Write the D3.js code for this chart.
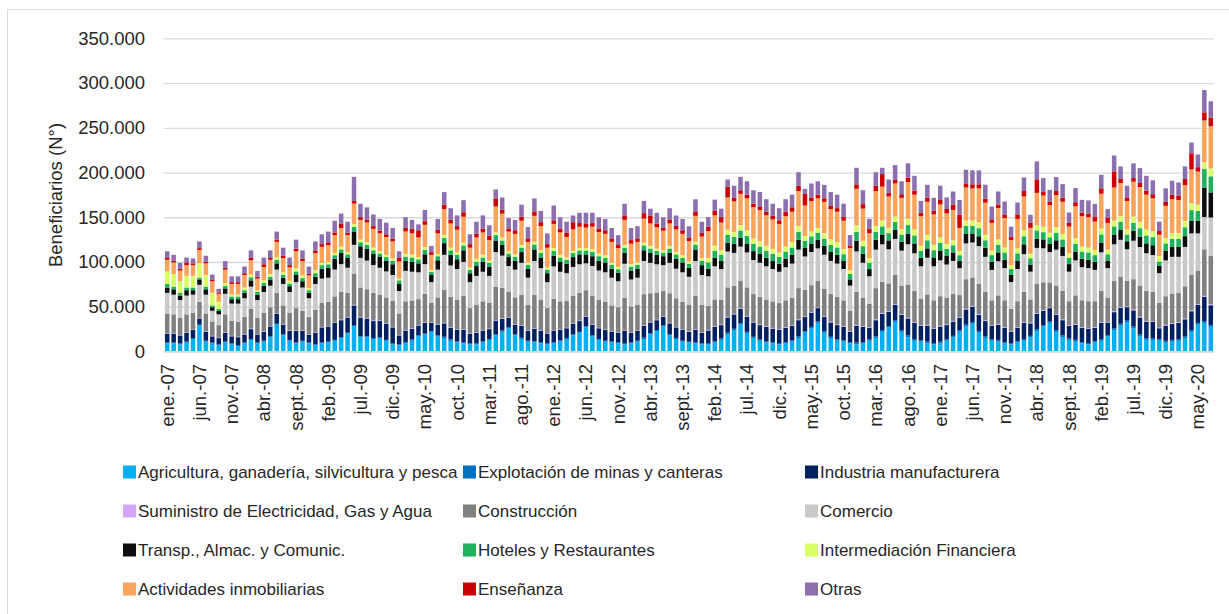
<!DOCTYPE html>
<html>
<head>
<meta charset="utf-8">
<script src="https://cdn.jsdelivr.net/npm/d3@7"></script>
<style>
  body { margin: 0; background: #fff; }
  text { font-family: 'Liberation Sans', Arial, sans-serif; fill: #262626; }
</style>
</head>
<body>
<svg id="chart" width="1229" height="614"></svg>
<script>
// Beneficiarios por rama de actividad, miles de personas (ene.-07 .. jul.-20)
const months = ['ene.', 'feb.', 'mar.', 'abr.', 'may.', 'jun.', 'jul.', 'ago.', 'sept.', 'oct.', 'nov.', 'dic.'];
const categories = d3.range(163).map(i => `${months[i % 12]}-${String(7 + Math.floor(i / 12)).padStart(2, '0')}`);

const tickLabels = ['ene.-07', 'jun.-07', 'nov.-07', 'abr.-08', 'sept.-08', 'feb.-09', 'jul.-09', 'dic.-09',
  'may.-10', 'oct.-10', 'mar.-11', 'ago.-11', 'ene.-12', 'jun.-12', 'nov.-12', 'abr.-13', 'sept.-13',
  'feb.-14', 'jul.-14', 'dic.-14', 'may.-15', 'oct.-15', 'mar.-16', 'ago.-16', 'ene.-17', 'jun.-17',
  'nov.-17', 'abr.-18', 'sept.-18', 'feb.-19', 'jul.-19', 'dic.-19', 'may.-20'];

const yTicks = [0, 50, 100, 150, 200, 250, 300, 350];

const agricultura = [
  9, 9, 8, 10, 14, 29, 11, 9, 7, 10, 8, 6,
  9, 13, 9, 11, 16, 30, 18, 12, 9, 11, 9, 7,
  9, 10, 12, 15, 20, 28, 16, 16, 14, 15, 12, 8,
  7, 9, 12, 17, 19, 22, 17, 15, 12, 10, 9, 8,
  8, 10, 13, 18, 22, 26, 18, 14, 11, 10, 9, 8,
  9, 11, 14, 18, 21, 27, 17, 13, 11, 10, 9, 8,
  9, 11, 14, 19, 23, 28, 18, 14, 11, 10, 9, 8,
  8, 10, 13, 19, 24, 30, 20, 15, 12, 10, 9, 8,
  9, 11, 15, 21, 26, 32, 21, 15, 12, 11, 9, 8,
  9, 12, 15, 22, 27, 33, 22, 16, 12, 11, 9, 8,
  9, 12, 16, 22, 28, 31, 21, 15, 12, 11, 9, 8,
  10, 12, 16, 23, 28, 32, 22, 16, 13, 11, 9, 8,
  10, 12, 17, 24, 29, 33, 26, 17, 13, 13, 13, 10,
  11, 12, 15, 22, 30, 32, 27.7];

const mineria = [
  1, 1, 1, 1, 1, 1, 1, 1, 1, 1, 1, 1,
  1, 1, 1, 1, 1, 1, 1, 1, 1, 1, 1, 1,
  1, 1, 1, 1, 1, 1.5, 1, 1, 1, 1, 1, 1,
  1, 1.5, 1.5, 1, 1, 1, 1, 1.5, 1.5, 1.5, 1.5, 1,
  1, 1.5, 1, 1.5, 1.5, 1, 1, 1.5, 1, 1.5, 1.5, 1,
  1.5, 1.5, 1, 1, 1, 1, 1, 1, 1, 1, 1, 1.5,
  1, 1, 1.5, 1.5, 1, 1, 1.5, 1, 1, 1, 1.5, 1,
  1.5, 1.5, 1.5, 2, 1.5, 1.5, 2, 1.5, 1.5, 1.5, 1.5, 1.5,
  1.5, 1.5, 2, 1.5, 1.5, 1.5, 1.5, 1.5, 1.5, 1.5, 1, 2,
  1.5, 1.5, 2, 2, 1.5, 2, 2, 2, 2, 1.5, 2, 1.5,
  2, 1.5, 1.5, 1.5, 2, 2, 2, 2, 1.5, 2, 1.5, 1,
  1.5, 2, 1.5, 2, 1.5, 1.5, 2, 2, 1.5, 2, 1.5, 1.5,
  1.5, 2, 1.5, 2, 2, 1.5, 2, 2, 2, 2, 1, 2,
  2, 2, 2, 2, 2, 2, 2];

const industria = [
  10, 10, 9, 10, 9, 7, 10, 7, 7, 10, 8, 9,
  9, 11, 9, 10, 11, 11, 11, 10, 13, 11, 9, 13,
  17, 17, 19, 19, 17, 22, 21, 20, 19, 18, 18, 18,
  10, 13, 12, 11, 12, 9, 12, 15, 13, 13, 14, 11,
  12, 12, 11, 15, 13, 11, 11, 13, 11, 14, 13, 11,
  13, 12, 11, 12, 12, 11, 12, 12, 12, 11, 11, 14,
  11, 11, 13, 12, 11, 10, 12, 12, 12, 11, 14, 12,
  14, 16, 15, 17, 16, 16, 17, 16, 16, 16, 15, 15,
  16, 16, 18, 16, 16, 15, 16, 16, 16, 15, 12, 19,
  17, 13, 18, 18, 16, 17, 17, 19, 18, 16, 18, 16,
  17, 16, 16, 14, 17, 17, 18, 17, 15, 17, 16, 13,
  15, 18, 14, 17, 16, 15, 17, 17, 14, 17, 16, 16,
  15, 18, 14, 18, 18, 15, 18, 19, 18, 18, 12, 17,
  18, 18, 19, 21, 20, 27, 22];

const electricidad = [
  0.5, 0.5, 0.5, 0.5, 0.5, 0.5, 0.5, 0.5, 0.5, 0.5, 0.5, 0.5,
  0.5, 0.5, 0.5, 0.5, 0.5, 0.5, 0.5, 0.5, 0.5, 0.5, 0.5, 0.5,
  0.5, 0.5, 0.6, 0.6, 0.6, 0.7, 0.6, 0.6, 0.6, 0.6, 0.5, 0.5,
  0.5, 0.6, 0.6, 0.5, 0.6, 0.5, 0.5, 0.6, 0.6, 0.6, 0.6, 0.5,
  0.5, 0.6, 0.5, 0.6, 0.6, 0.5, 0.5, 0.6, 0.5, 0.6, 0.6, 0.5,
  0.6, 0.6, 0.5, 0.5, 0.5, 0.5, 0.5, 0.5, 0.5, 0.5, 0.5, 0.6,
  0.5, 0.5, 0.6, 0.6, 0.5, 0.5, 0.6, 0.5, 0.5, 0.5, 0.6, 0.5,
  0.6, 0.7, 0.6, 0.7, 0.7, 0.7, 0.7, 0.7, 0.7, 0.7, 0.6, 0.6,
  0.7, 0.7, 0.8, 0.7, 0.7, 0.7, 0.7, 0.7, 0.7, 0.7, 0.6, 0.8,
  0.7, 0.6, 0.8, 0.8, 0.7, 0.8, 0.7, 0.8, 0.8, 0.7, 0.8, 0.7,
  0.8, 0.7, 0.7, 0.6, 0.8, 0.8, 0.8, 0.8, 0.7, 0.8, 0.7, 0.6,
  0.7, 0.8, 0.7, 0.8, 0.8, 0.7, 0.8, 0.8, 0.7, 0.8, 0.7, 0.7,
  0.7, 0.8, 0.7, 0.8, 0.8, 0.7, 0.8, 0.8, 0.8, 0.8, 0.6, 0.8,
  0.8, 0.8, 0.9, 1, 1, 1.2, 1.1];

const construccion = [
  22, 21, 19, 20, 19, 18, 20, 16, 14, 20, 17, 17,
  19, 22, 18, 21, 21, 23, 21, 20, 25, 22, 19, 25,
  27, 27, 29, 31, 27, 35, 33, 32, 31, 29, 29, 29,
  24, 32, 31, 29, 32, 22, 30, 37, 34, 33, 37, 28,
  31, 32, 29, 37, 34, 28, 30, 34, 29, 37, 34, 28,
  35, 31, 30, 31, 31, 29, 32, 31, 31, 29, 28, 36,
  29, 29, 35, 32, 30, 28, 33, 32, 31, 30, 37, 31,
  27, 30, 28, 33, 31, 31, 32, 31, 31, 30, 30, 29,
  30, 31, 35, 30, 30, 30, 31, 31, 31, 29, 23, 37,
  32, 26, 35, 35, 31, 33, 32, 37, 35, 30, 34, 31,
  33, 30, 30, 25, 33, 32, 34, 32, 28, 32, 30, 25,
  29, 34, 26, 33, 31, 28, 32, 32, 27, 32, 30, 30,
  29, 35, 27, 34, 34, 29, 34, 35, 34, 33, 28, 32,
  33, 33, 36, 40, 37, 52, 54];

const comercio = [
  23, 22, 20, 21, 20, 19, 21, 12, 12, 23, 19, 20,
  21, 25, 20, 23, 24, 26, 24, 23, 29, 26, 21, 29,
  27, 27, 30, 31, 28, 32, 33, 32, 31, 30, 29, 29,
  25, 34, 32, 30, 33, 23, 31, 39, 35, 34, 38, 29,
  32, 33, 30, 39, 36, 29, 31, 36, 30, 38, 35, 29,
  36, 33, 31, 32, 32, 30, 33, 33, 33, 31, 29, 38,
  30, 30, 37, 34, 32, 29, 34, 33, 33, 31, 39, 33,
  33, 37, 34, 40, 37, 38, 39, 38, 38, 37, 36, 35,
  37, 38, 43, 37, 37, 36, 38, 37, 37, 35, 28, 45,
  39, 31, 43, 42, 38, 40, 39, 45, 42, 36, 41, 38,
  40, 37, 37, 30, 40, 39, 42, 39, 34, 38, 36, 30,
  36, 42, 31, 40, 38, 34, 40, 39, 33, 39, 37, 37,
  35, 43, 33, 41, 41, 35, 43, 43, 42, 41, 33, 40,
  41, 40, 44, 46, 42, 36, 43];

const transporte = [
  6, 6, 5, 6, 5, 6, 6, 4, 4, 6, 5, 5,
  6, 7, 6, 7, 7, 7, 7, 6.5, 8, 7, 6, 8,
  11, 11, 12, 12.5, 11, 15, 13, 13, 12.5, 12, 12, 12,
  8, 11, 11, 10, 11, 8, 10.5, 13, 12, 11, 13, 10,
  11, 11, 10, 13, 12, 10, 10, 12, 10, 13, 12, 10,
  12, 11, 10.5, 11, 11, 10, 11, 11, 11, 10, 9.5, 12.5,
  10, 10, 12, 11, 10.5, 10, 11, 11, 11, 10, 13, 11,
  8.5, 9.5, 9, 10, 10, 10, 10, 10, 10, 9.5, 9, 9,
  9.5, 10, 11, 9.5, 9.5, 9.5, 10, 10, 10, 9, 7, 12,
  10, 8, 11, 11, 10, 10.5, 10, 12, 11, 9.5, 10.5, 10,
  10.5, 9.5, 9.5, 8, 10.5, 10, 11, 10, 9, 10, 9.5, 8,
  9.5, 11, 8, 10.5, 10, 9, 10.5, 10, 8.5, 10, 9.5, 9.5,
  9, 11, 8.5, 11, 11, 9, 11, 11.5, 11, 11, 8, 10.5,
  11, 11, 12, 14, 14, 33, 28];

const hoteles = [
  4, 3, 3, 3, 3, 2, 3, 2, 2, 3, 3, 3,
  3, 3.5, 3, 3, 3, 4, 3, 3, 4, 3.5, 3, 4,
  4, 4, 4, 4, 4, 5, 4.5, 4.5, 4, 4, 4, 4,
  4, 5, 5, 4.5, 5, 3.5, 4.5, 6, 5, 5, 5.5, 4,
  5, 5, 4.5, 6, 5, 4, 4.5, 5, 4.5, 5.5, 5, 4,
  5.5, 5, 4.5, 4.5, 4.5, 4.5, 5, 5, 5, 4.5, 4, 5.5,
  4.5, 4.5, 5.5, 5, 4.5, 4, 5, 5, 5, 4.5, 5.5, 5,
  7, 8, 7, 8.5, 8, 8, 8.5, 8, 8, 8, 8, 7.5,
  8, 8, 9, 8, 8, 8, 8, 8, 8, 7.5, 6, 10,
  8.5, 7, 9, 9, 8, 8.5, 8, 9.5, 9, 8, 9, 8,
  9, 8, 8, 6.5, 9, 8.5, 9, 8.5, 7.5, 8.5, 8, 6.5,
  8, 9, 7, 9, 8, 7.5, 8.5, 8.5, 7, 8.5, 8, 8,
  7.5, 9, 7, 9, 9, 7.5, 9, 9.5, 9, 9, 5, 8.5,
  9, 9, 10, 12, 11, 21, 18];

const financiera = [
  14, 14, 13, 13, 13, 16, 13, 14, 8, 3, 2, 2,
  3, 3, 2, 3, 3, 3, 3, 3, 3.5, 3, 2.5, 3.5,
  2.5, 2.5, 2.5, 3, 2.5, 3, 3, 3, 3, 2.5, 2.5, 2.5,
  2, 3, 3, 2.5, 3, 2, 2.5, 3, 3, 3, 3, 2.5,
  3, 3, 2.5, 3, 3, 2.5, 2.5, 3, 2.5, 3, 3, 2.5,
  3, 3, 2.5, 2.5, 2.5, 2.5, 3, 3, 3, 2.5, 2.5, 3,
  2.5, 2.5, 3, 3, 2.5, 2.5, 3, 3, 3, 2.5, 3, 3,
  5, 5.5, 5, 6, 5.5, 6, 6, 6, 6, 5.5, 5.5, 5,
  5.5, 6, 6.5, 5.5, 5.5, 5.5, 6, 6, 6, 5.5, 4, 7,
  6, 5, 6.5, 6.5, 6, 6, 6, 7, 6.5, 5.5, 6, 6,
  6, 5.5, 5.5, 4.5, 6, 6, 6.5, 6, 5, 6, 5.5, 4.5,
  5.5, 6.5, 5, 6, 6, 5, 6, 6, 5, 6, 5.5, 5.5,
  5.5, 6.5, 5, 6.5, 6.5, 5.5, 7, 7, 6.5, 6.5, 6, 6,
  6.5, 6.5, 7, 7.5, 7, 7, 8.6];

const inmobiliarias = [
  13, 13, 12, 12, 12, 15, 13, 13, 9, 15, 12, 12,
  14, 16, 13, 15, 16, 17, 16, 15, 19, 16, 14, 19,
  18, 19, 20, 21, 19, 23, 22, 22, 21, 20, 20, 19,
  19, 25, 24, 22, 25, 17, 23, 29, 27, 25, 29, 22,
  24, 25, 23, 29, 27, 22, 23, 27, 23, 29, 27, 22,
  27, 25, 23, 24, 24, 23, 25, 24, 24, 23, 21, 28,
  23, 23, 27, 25, 24, 22, 25, 25, 24, 23, 29, 24,
  30, 34, 31, 36, 34, 35, 36, 35, 35, 34, 33, 32,
  34, 34, 39, 34, 34, 33, 35, 34, 34, 32, 25, 41,
  36, 28, 39, 38, 35, 37, 35, 41, 39, 33, 37, 34,
  37, 34, 34, 26, 37, 36, 38, 36, 31, 35, 33, 28,
  33, 38, 29, 36, 35, 31, 36, 36, 30, 36, 34, 34,
  32, 39, 30, 37, 37, 32, 39, 39, 39, 37, 24, 36,
  38, 37, 40, 38, 37, 47, 47.4];

const ensenanza = [
  2, 2, 2, 3, 2, 2, 2, 1.5, 1.5, 2, 2, 2,
  2, 2.5, 2, 3, 2, 2.5, 2.5, 2.5, 3, 2.5, 2, 3,
  3, 3, 3, 5, 2.5, 3, 3, 3, 3, 3, 3, 3,
  4, 4, 5, 8, 4, 3, 4, 5, 4, 4, 5, 4,
  4, 4, 5, 9, 4.5, 3.5, 4, 4.5, 4, 5, 4.5, 4,
  4, 4, 5, 8, 4, 4, 4, 4, 4, 4, 3.5, 5,
  4, 4, 6, 9, 4, 3.5, 4.5, 4, 4, 4, 5, 4,
  5, 5, 6, 12, 4, 4, 4, 4, 4, 4, 4, 4,
  5, 5, 6, 13, 4, 4, 4, 4, 4, 4, 3, 5,
  5, 5, 6, 14, 4, 4, 4, 5, 4.5, 4, 4.5, 4,
  5, 5, 6, 15, 4.5, 4.5, 4.5, 4.5, 4, 4, 4, 3.5,
  5, 6, 6, 15, 4, 4, 4.5, 4.5, 4, 4.5, 4, 4,
  5, 6, 6, 18, 4.5, 4, 4, 4.5, 4.5, 4.5, 4, 4.5,
  5, 5, 7, 18, 5, 9, 9.6];

const otras = [
  7.5, 6.5, 6.5, 5.5, 5.5, 7.5, 6.5, 6, 4, 7.5, 6.5, 6.5,
  7.5, 8.5, 6.5, 7.5, 8.5, 9, 9, 8.5, 10, 9.5, 8, 10,
  11, 12, 13, 11, 12.5, 27, 15, 14, 13, 13, 13, 12,
  7.5, 12, 10, 6.5, 12.5, 7, 12, 14, 13, 12, 13.5, 11,
  13.5, 15, 11.5, 10, 13.5, 11.5, 11.5, 13.5, 12.5, 14.5, 12.5, 12,
  16.5, 13, 12, 7.5, 11.5, 12.5, 11.5, 12.5, 12.5, 11.5, 11, 13,
  13.5, 13.5, 13.5, 7.5, 12, 11.5, 12.5, 11.5, 12.5, 12.5, 13.5, 12.5,
  10.5, 12.5, 9.5, 8, 13.5, 15, 15, 15, 16, 14, 13.5, 13.5,
  14, 14, 15, 5.5, 15.5, 15, 15, 15, 15, 15, 11.5, 18.5,
  15.5, 11, 15, 7, 15, 16.5, 14.5, 16, 16.5, 13, 14.5, 14.5,
  16, 13, 14.6, 16.3, 15.3, 15.6, 15.6, 15.6, 14.3, 14.6, 14.4, 11.5,
  13.3, 15.2, 8.5, 20.1, 15.5, 13, 15.6, 15.3, 11.6, 15.8, 14.3, 14.6,
  14.8, 15.2, 9.4, 17.8, 14, 13, 16.5, 16.7, 16.5, 15.5, 10.5, 15,
  15.5, 14.6, 14, 12, 14.1, 25, 18.2];

const series = [
  { key: 'Agricultura, ganadería, silvicultura y pesca', values: agricultura, color: '#00b0f0' },
  { key: 'Explotación de minas y canteras', values: mineria, color: '#0070c0' },
  { key: 'Industria manufacturera', values: industria, color: '#002060' },
  { key: 'Suministro de Electricidad, Gas y Agua', values: electricidad, color: '#d5a6f7' },
  { key: 'Construcción', values: construccion, color: '#808080' },
  { key: 'Comercio', values: comercio, color: '#c9c9c9' },
  { key: 'Transp., Almac. y Comunic.', values: transporte, color: '#0d0d0d' },
  { key: 'Hoteles y Restaurantes', values: hoteles, color: '#1fb05c' },
  { key: 'Intermediación Financiera', values: financiera, color: '#d9ff66' },
  { key: 'Actividades inmobiliarias', values: inmobiliarias, color: '#f8a45c' },
  { key: 'Enseñanza', values: ensenanza, color: '#cc0000' },
  { key: 'Otras', values: otras, color: '#8c6fae' },
];

const svg = d3.select('#chart');

// outer chart frame
svg.append('rect')
  .attr('x', 7.5).attr('y', 9.5)
  .attr('width', 1230).attr('height', 620)
  .attr('fill', '#fff')
  .attr('stroke', '#d9d9d9');

const x = d3.scaleBand()
  .domain(categories)
  .range([164, 1214])
  .paddingInner(0.3)
  .paddingOuter(0.15);

const y = d3.scaleLinear()
  .domain([0, 350])
  .range([351.5, 38.3]);

const fmt = d => d === 0 ? '0' : d3.format(',')(d * 1000).replace(/,/g, '.');

// gridlines + y labels
const yAxis = svg.append('g')
  .attr('transform', 'translate(164,0)')
  .call(d3.axisLeft(y).tickValues(yTicks).tickFormat(fmt).tickSize(-1050).tickPadding(19));

yAxis.select('.domain').remove();
yAxis.selectAll('line').attr('stroke', '#d9d9d9').attr('stroke-width', 1.3);
yAxis.selectAll('text')
  .attr('font-size', 18.5)
  .attr('font-family', 'Liberation Sans, Arial, sans-serif')
  .attr('fill', '#262626');

svg.append('text')
  .attr('transform', 'translate(62,195) rotate(-90)')
  .attr('text-anchor', 'middle')
  .attr('font-size', 18.5)
  .text('Beneficiarios (N°)');

// stacked bars
const rows = categories.map((c, i) => {
  const row = { cat: c };
  series.forEach(s => { row[s.key] = s.values[i]; });
  return row;
});

const stack = d3.stack().keys(series.map(s => s.key));
const layers = stack(rows);

svg.append('g')
  .selectAll('g')
  .data(layers)
  .join('g')
  .attr('fill', (d, i) => series[i].color)
  .selectAll('rect')
  .data(d => d)
  .join('rect')
  .attr('x', d => x(d.data.cat))
  .attr('width', x.bandwidth())
  .attr('y', d => y(d[1]))
  .attr('height', d => y(d[0]) - y(d[1]));

svg.append('line')
  .attr('x1', 164).attr('x2', 1214)
  .attr('y1', 351.5).attr('y2', 351.5)
  .attr('stroke', '#d9d9d9');

// x labels, every fifth month
svg.append('g')
  .selectAll('text')
  .data(tickLabels)
  .join('text')
  .attr('transform', d => `translate(${x(d) + x.bandwidth() / 2},364) rotate(-90)`)
  .attr('dy', '0.35em')
  .attr('text-anchor', 'end')
  .attr('font-size', 18.5)
  .text(d => d);

// legend
const legendCols = [123, 463, 805];
const legendRows = [472, 511, 550, 589];

const legend = svg.append('g')
  .selectAll('g')
  .data(series)
  .join('g')
  .attr('transform', (d, i) => `translate(${legendCols[i % 3]},${legendRows[Math.floor(i / 3)]})`);

legend.append('rect')
  .attr('x', 0).attr('y', -6.5)
  .attr('width', 13).attr('height', 13)
  .attr('fill', d => d.color);

legend.append('text')
  .attr('x', 15)
  .attr('dy', '0.35em')
  .attr('font-size', 17)
  .text(d => d.key);
</script>
</body>
</html>
